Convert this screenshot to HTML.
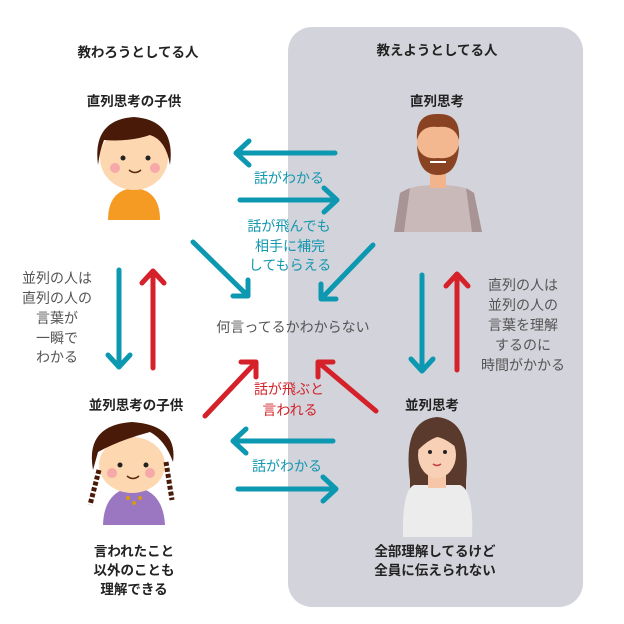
<!DOCTYPE html>
<html><head><meta charset="utf-8"><style>
body{margin:0;background:#fff}
svg{display:block}
text{font-family:"Liberation Sans","Noto Sans CJK JP",sans-serif;font-size:14px;text-anchor:middle}
.b{fill:#222;font-weight:bold;font-size:13.5px}
.g{fill:#555}
.t{fill:#1497b0}
.r{fill:#d2232a}
.at{stroke:#0b98b0;stroke-width:5;fill:none;stroke-linecap:round;stroke-linejoin:round}
.ar{stroke:#d4212a;stroke-width:5;fill:none;stroke-linecap:round;stroke-linejoin:round}
</style></head><body>
<svg width="624" height="624" viewBox="0 0 624 624">
<rect x="288" y="27" width="295" height="580" rx="24" fill="#d3d3db"/>
<text class="b" x="138" y="57">教わろうとしてる人</text>
<text class="b" x="437" y="55">教えようとしてる人</text>
<text class="b" x="134" y="106">直列思考の子供</text>
<text class="b" x="437" y="106">直列思考</text>
<text class="b" x="136" y="410">並列思考の子供</text>
<text class="b" x="432" y="410">並列思考</text>

<path class="at" d="M335 153H236M249 141L236 153L249 165"/>
<text class="t" x="289" y="183">話がわかる</text>
<path class="at" d="M240 200H337M324 188L337 200L324 212"/>
<path class="at" d="M333 441H233M246 429L233 441L246 453"/>
<text class="t" x="287" y="471">話がわかる</text>
<path class="at" d="M238 489H336M323 477L336 489L323 501"/>

<path class="at" d="M119 270V367M108 355L119 367L130 355"/>
<path class="ar" d="M153 368V271M142 283L153 271L164 283"/>
<path class="at" d="M422 275V371M411 359L422 371L433 359"/>
<path class="ar" d="M457 370V274M446 286L457 274L468 286"/>

<path class="at" d="M193 242L248 296M248 280L248 296L233 296"/>
<path class="at" d="M373 245L321 299M321 284L321 299L336 299"/>
<path class="ar" d="M205 416L256 362M241 362L256 362L256 377"/>
<path class="ar" d="M376 411L318 362M318 377L318 362L333 362"/>

<text class="t" x="289" y="231">話が飛んでも</text>
<text class="t" x="290" y="251">相手に補完</text>
<text class="t" x="290" y="270">してもらえる</text>
<text class="g" x="293" y="332">何言ってるかわからない</text>
<text class="r" x="289" y="394">話が飛ぶと</text>
<text class="r" x="290" y="415">言われる</text>

<text class="g" x="57" y="283">並列の人は</text>
<text class="g" x="57" y="303">直列の人の</text>
<text class="g" x="57" y="323">言葉が</text>
<text class="g" x="57" y="343">一瞬で</text>
<text class="g" x="57" y="362">わかる</text>

<text class="g" x="523" y="290">直列の人は</text>
<text class="g" x="523" y="310">並列の人の</text>
<text class="g" x="523" y="330">言葉を理解</text>
<text class="g" x="523" y="350">するのに</text>
<text class="g" x="523" y="370">時間がかかる</text>

<text class="b" x="134" y="556">言われたこと</text>
<text class="b" x="134" y="575">以外のことも</text>
<text class="b" x="134" y="594">理解できる</text>
<text class="b" x="435" y="556">全部理解してるけど</text>
<text class="b" x="435" y="575">全員に伝えられない</text>

<!-- boy -->
<path d="M108 220Q108 190 134 188Q160 190 160 220Z" fill="#f59a23"/>
<ellipse cx="134" cy="158" rx="34" ry="32" fill="#fdd7b0"/>
<path d="M98 165Q92 120 134 117Q176 120 170 165Q166 140 150 135Q130 142 104 140Q100 150 98 165Z" fill="#4a1a08"/>
<circle cx="123" cy="158" r="2.5" fill="#222"/><circle cx="148" cy="158" r="2.5" fill="#222"/>
<circle cx="115" cy="168" r="5" fill="#f7a8a8"/><circle cx="155" cy="168" r="5" fill="#f7a8a8"/>
<path d="M129 170Q135 175 141 170" stroke="#5a2a10" fill="none" stroke-width="1.5"/>

<!-- man -->
<path d="M394 232L400 193Q410 185 438 185Q466 185 474 193L482 232Z" fill="#c9b9b9"/>
<path d="M394 232L400 193L410 188L404 232Z" fill="#a89494"/><path d="M482 232L474 193L466 188L472 232Z" fill="#a89494"/>
<rect x="430" y="172" width="16" height="16" fill="#f2b48a"/>
<ellipse cx="438" cy="142" rx="21" ry="26" fill="#f3b88f"/>
<path d="M417 140Q415 113 438 114Q461 113 459 140Q455 125 438 127Q421 125 417 140Z" fill="#8a4322"/>
<path d="M417 145Q418 175 438 175Q458 175 459 145Q455 160 438 158Q421 160 417 145Z" fill="#8a4322"/>
<path d="M430 162H446" stroke="#fff" stroke-width="2"/>

<!-- girl -->
<path d="M103 525Q104 490 134 487Q163 490 165 525Z" fill="#9a77c0"/>
<circle cx="128" cy="498" r="2" fill="#d99a10"/><circle cx="140" cy="498" r="2" fill="#d99a10"/><circle cx="134" cy="503" r="2" fill="#d99a10"/>
<ellipse cx="132" cy="465" rx="33" ry="28" fill="#fdd7b0"/>
<path d="M93 470Q85 425 132 422Q178 425 173 462Q165 440 150 432Q120 440 98 452Z" fill="#4a1a08"/>
<path d="M99 470L90 505M166 462L172 500" stroke="#4a1a08" stroke-width="5" stroke-dasharray="4 2"/>
<circle cx="120" cy="465" r="2.5" fill="#222"/><circle cx="146" cy="465" r="2.5" fill="#222"/>
<circle cx="112" cy="473" r="5" fill="#f7a8a8"/><circle cx="150" cy="473" r="5" fill="#f7a8a8"/>
<path d="M127 476Q133 481 139 476" stroke="#5a2a10" fill="none" stroke-width="1.5"/>

<!-- woman -->
<path d="M410 480Q402 420 437 417Q472 420 466 480L466 500L410 500Z" fill="#5a3a2c"/>
<path d="M403 537Q402 490 414 485L460 485Q474 490 472 537Z" fill="#ececec"/>
<rect x="428" y="470" width="18" height="18" fill="#f5c7a8"/>
<ellipse cx="437" cy="455" rx="19" ry="23" fill="#f7d0b5"/>
<path d="M418 450Q420 428 437 428Q452 430 457 448Q445 438 437 437Q428 440 418 450Z" fill="#5a3a2c"/>
<circle cx="430" cy="452" r="2" fill="#222"/><circle cx="445" cy="452" r="2" fill="#222"/>
<path d="M433 464Q437 467 441 464" stroke="#c04040" fill="none" stroke-width="1.5"/>
</svg>
</body></html>
